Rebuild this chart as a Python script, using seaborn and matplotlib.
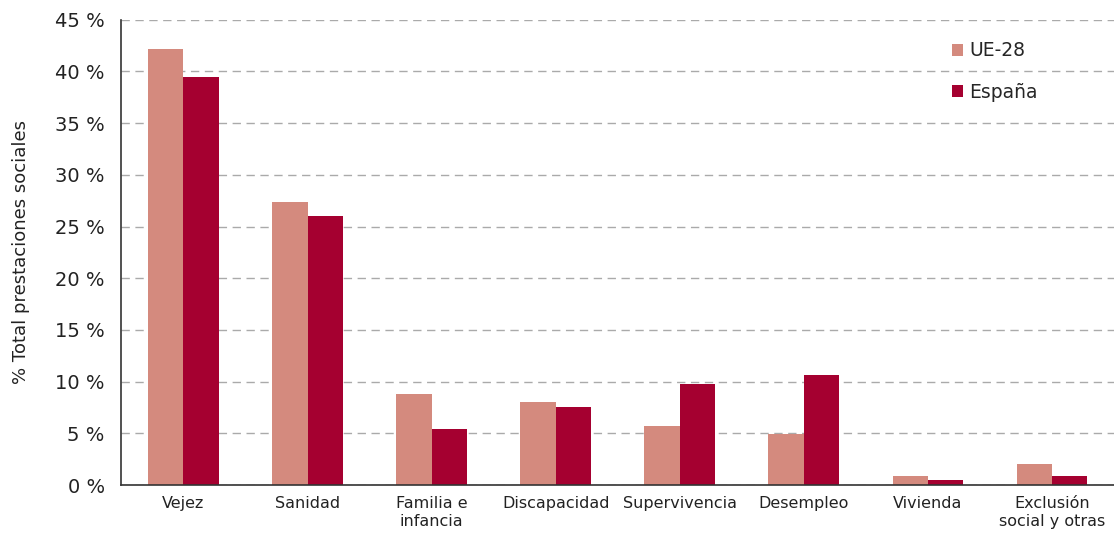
import pandas as pd
import matplotlib.pyplot as plt
import seaborn as sns
from matplotlib.ticker import FuncFormatter

categories = ["Vejez", "Sanidad", "Familia e\ninfancia", "Discapacidad",
              "Supervivencia", "Desempleo", "Vivienda", "Exclusión\nsocial y otras"]
ue28 = [42.2, 27.4, 8.8, 8.0, 5.7, 4.9, 0.9, 2.0]
espana = [39.5, 26.0, 5.4, 7.5, 9.8, 10.6, 0.45, 0.9]
series = ["UE-28", "España"]
colors = ["#D48A7E", "#A50030"]

df = pd.DataFrame({
    "categoria": categories * 2,
    "valor": ue28 + espana,
    "serie": [series[0]] * len(categories) + [series[1]] * len(categories),
})

sns.set_style("white")
plt.rcParams["font.family"] = ["DejaVu Sans"]

fig, ax = plt.subplots(figsize=(11.14, 5.33), dpi=100)
sns.barplot(data=df, x="categoria", y="valor", hue="serie", order=categories,
            hue_order=series, palette=colors, width=0.57, gap=0,
            saturation=1, linewidth=0, edgecolor="none", ax=ax)

ax.set_ylim(0, 45)
ax.set_yticks(range(0, 50, 5))
ax.yaxis.set_major_formatter(FuncFormatter(lambda v, _: f"{int(v)} %"))
ax.set_xlim(-0.5, len(categories) - 0.5)
ax.grid(axis="y", color="#aaaaaa", linestyle=(0, (6, 4)), linewidth=1)
ax.set_axisbelow(True)

for side in ["top", "right"]:
    ax.spines[side].set_visible(False)
for side in ["left", "bottom"]:
    ax.spines[side].set_color("#333333")
    ax.spines[side].set_linewidth(1.2)

ax.tick_params(axis="y", labelsize=14, length=0, pad=12, colors="#222222")
ax.tick_params(axis="x", labelsize=11.5, length=0, pad=8, colors="#222222")
ax.set_xlabel("")
ax.set_ylabel("% Total prestaciones sociales", fontsize=13, color="#222222", labelpad=18)

leg = ax.legend(loc="upper right", bbox_to_anchor=(0.94, 0.99), frameon=False,
                fontsize=13.5, handlelength=0.6, handleheight=0.6,
                handletextpad=0.3, labelspacing=1.2)
for h in leg.legend_handles:
    h.set_edgecolor("none")

fig.subplots_adjust(left=0.109, right=1.0, top=0.963, bottom=0.09)
fig.savefig("out.png", dpi=100)
